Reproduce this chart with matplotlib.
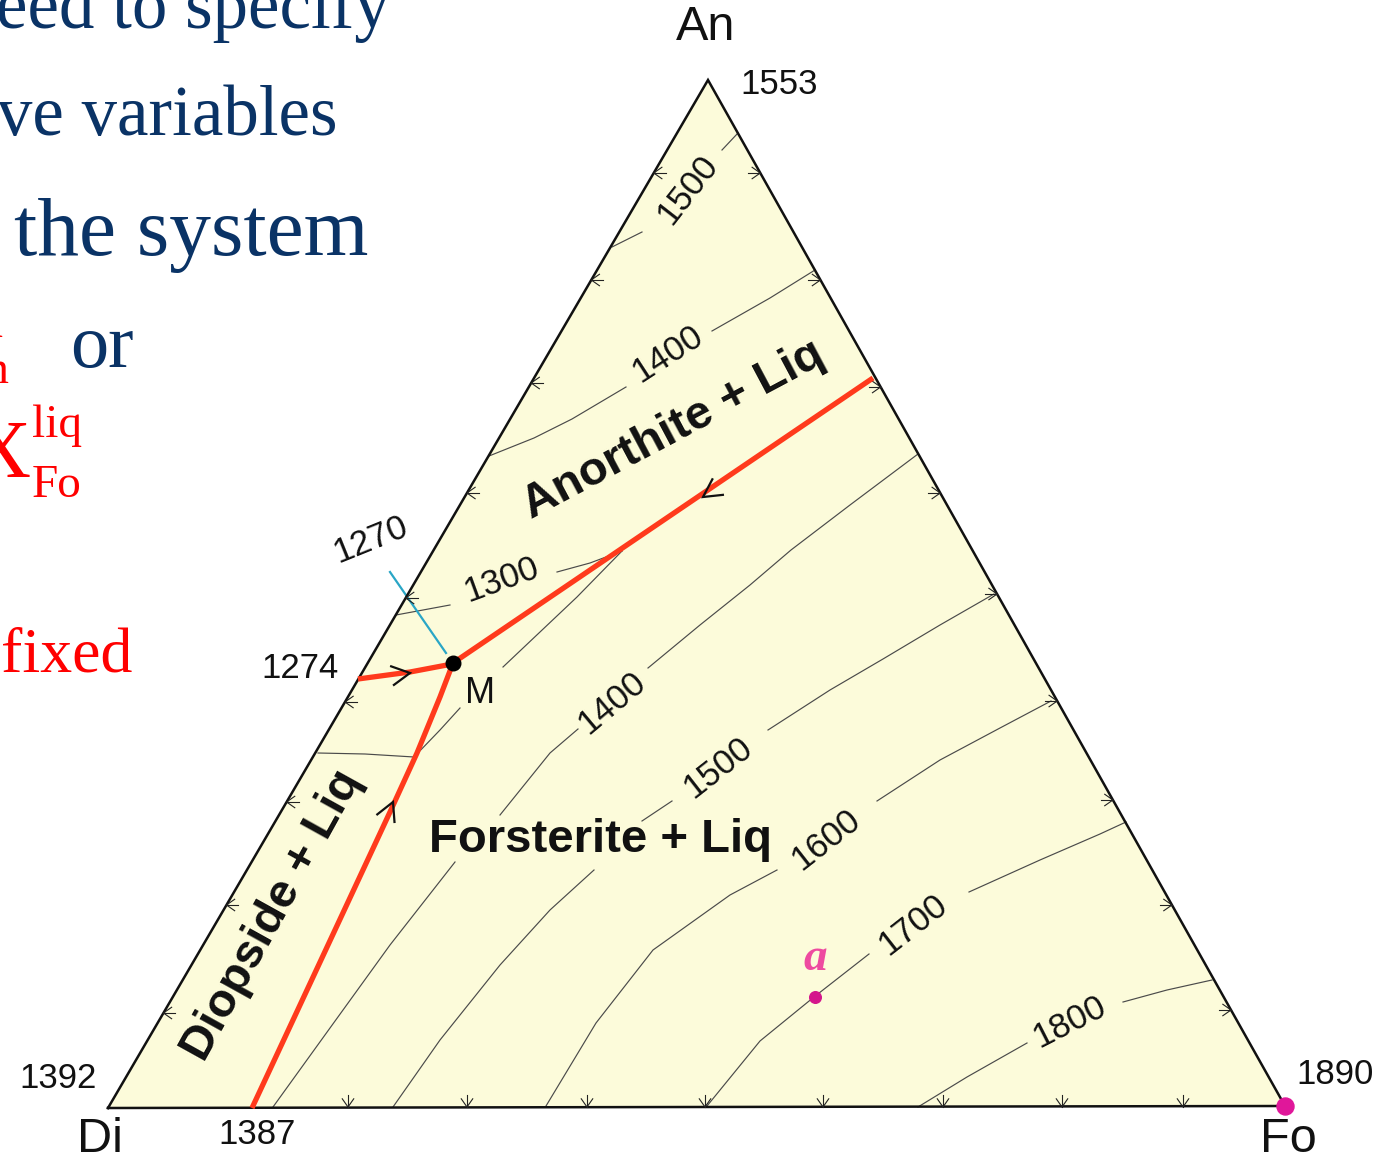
import matplotlib
matplotlib.use("Agg")
import matplotlib.pyplot as plt
import numpy as np
from matplotlib.patches import Polygon

# ---------------- data (figure pixel coordinates, y downward) ----------------
vertex_names = ["Di", "Fo", "An"]
vertex_xy = [(108, 1108), (1285, 1106), (708, 80)]
vertex_label_xy = [(100, 1140), (1288, 1140), (706, 28)]
vertex_temps = ["1392", "1387", "1890", "1553", "1274", "1270"]
vertex_temp_xy = [(58, 1078), (257, 1135), (1335, 1075), (779, 85), (300, 669), (371, 540)]
vertex_temp_rot = [0, 0, 0, 0, 0, 22]

# isotherms: each a list of segments (gaps where labels sit)
iso_an_1500 = [[(612, 247), (642, 232)], [(722, 150), (738, 133)]]
iso_an_1400 = [[(489, 456), (534, 438), (572, 419), (626, 387)],
               [(712, 331), (770, 298), (815, 270)]]
iso_an_1300 = [[(396, 615), (450, 605)], [(557, 572), (590, 563), (622, 551)]]
iso_di_1300 = [[(318, 753), (365, 754), (414, 757)]]
iso_fo_1300 = [[(414, 757), (440, 730), (460, 708)],
               [(503, 667), (540, 632), (577, 597), (622, 551)]]
iso_fo_1400 = [[(273, 1107), (330, 1028), (390, 945), (455, 862)],
               [(500, 815), (550, 753), (578, 729)],
               [(648, 668), (700, 625), (750, 585), (791, 550), (850, 505), (918, 454)]]
iso_fo_1500 = [[(393, 1107), (440, 1040), (500, 965), (550, 910), (594, 870)],
               [(642, 821), (672, 801)],
               [(768, 730), (830, 690), (883, 659), (940, 625), (994, 594)]]
iso_fo_1600 = [[(546, 1106), (596, 1023), (653, 950), (730, 895), (777, 870)],
               [(877, 801), (940, 760), (1000, 728), (1051, 701)]]
iso_fo_1700 = [[(707, 1106), (760, 1041), (814, 997), (869, 954)],
               [(969, 892), (1040, 860), (1100, 834), (1126, 822)]]
iso_fo_1800 = [[(918, 1107), (967, 1077), (1027, 1043)],
               [(1123, 1002), (1167, 990), (1212, 980)]]
isotherms = [iso_an_1500, iso_an_1400, iso_an_1300, iso_di_1300, iso_fo_1300,
             iso_fo_1400, iso_fo_1500, iso_fo_1600, iso_fo_1700, iso_fo_1800]

iso_labels = ["1500", "1400", "1300", "1400", "1500", "1600", "1700", "1800"]
iso_label_xy = [(688, 190), (668, 354), (502, 580), (612, 703), (718, 768),
                (826, 840), (913, 925), (1070, 1022)]
iso_label_rot = [52, 33, 20, 40, 38, 38, 38, 27]

# cotectic boundaries (red)
cot_an_fo = [(873, 378), (453, 663)]
cot_di_an = [(358, 679), (410, 672), (447, 665), (453, 663)]
cot_di_fo = [(453, 663), (440, 697), (417, 753), (390, 812), (252, 1108)]
cotectics = [cot_an_fo, cot_di_an, cot_di_fo]
# arrow tips and directions on cotectics
arrow_tips = [(703, 497), (410, 673), (393, 802)]
arrow_dirs = [(-420, 285), (1, -0.15), (0.44, -1)]

tie_line = [(390, 572), (446, 653)]          # cyan
eutectic_M = (453, 663)
point_a = (815, 997)

# edge ticks
left_tick_y = [173, 280, 383, 493, 598, 702, 802, 905, 1013]
right_tick_y = [173, 280, 387, 493, 594, 701, 800, 905, 1010]
bottom_tick_x = [348, 467, 587, 705, 823, 943, 1062, 1183]

field_names = ["Anorthite + Liq", "Forsterite + Liq", "Diopside + Liq"]
field_xy = [(673, 430), (601, 840), (272, 915)]
field_rot = [28, 0, 61]

# ---------------- drawing ----------------
W, H = 1382, 1159
fig = plt.figure(figsize=(W / 100, H / 100), dpi=100)
ax = fig.add_axes([0, 0, 1, 1])
ax.set_xlim(0, W)
ax.set_ylim(H, 0)
ax.axis("off")

SANS = ["Liberation Sans", "DejaVu Sans"]
SERIF = ["Liberation Serif", "DejaVu Serif"]
FILL = "#fcfbda"

tri = Polygon(vertex_xy, closed=True, facecolor=FILL, edgecolor="none", zorder=1)
ax.add_patch(tri)
vx = [p[0] for p in vertex_xy] + [vertex_xy[0][0]]
vy = [p[1] for p in vertex_xy] + [vertex_xy[0][1]]
ax.plot(vx, vy, color="#111111", lw=1.8, zorder=5, solid_joinstyle="miter")

# isotherms
for iso in isotherms:
    for seg in iso:
        xs, ys = zip(*seg)
        ax.plot(xs, ys, color="#4a4a4a", lw=0.85, zorder=2)

for t, (x, y), r in zip(iso_labels, iso_label_xy, iso_label_rot):
    ax.text(x, y, t, fontsize=25, family=SANS, color="#111111", rotation=r,
            rotation_mode="anchor", ha="center", va="center", zorder=6)


def edge_x(p0, p1, y):
    return p0[0] + (y - p0[1]) * (p1[0] - p0[0]) / (p1[1] - p0[1])


def arrowhead(tip, d, L=14, ang=32, stem=0, lw=1.0, color="#222222", z=7):
    d = np.array(d, float)
    d /= np.hypot(*d)
    a = np.radians(ang)
    tip = np.array(tip, float)
    pts = []
    for s in (a, -a):
        R = np.array([[np.cos(s), -np.sin(s)], [np.sin(s), np.cos(s)]])
        pts.append(tip - L * (R @ d))
    ax.plot([pts[0][0], tip[0], pts[1][0]], [pts[0][1], tip[1], pts[1][1]],
            color=color, lw=lw, zorder=z, solid_joinstyle="miter")
    if stem:
        e = tip - stem * d
        ax.plot([tip[0], e[0]], [tip[1], e[1]], color=color, lw=lw, zorder=z)


Di, Fo, An = vertex_xy
for y in left_tick_y:
    arrowhead((edge_x(An, Di, y), y), (-1, 0), L=10, ang=35, stem=12, lw=0.8)
for y in right_tick_y:
    arrowhead((edge_x(An, Fo, y), y), (1, 0), L=10, ang=35, stem=12, lw=0.8)
for x in bottom_tick_x:
    arrowhead((x, 1107), (0, 1), L=10, ang=35, stem=12, lw=0.8)

# cotectics
for c in cotectics:
    xs, ys = zip(*c)
    ax.plot(xs, ys, color="#ff3a1c", lw=3.8, zorder=8, solid_capstyle="butt")
for tip, d in zip(arrow_tips, arrow_dirs):
    arrowhead(tip, d, L=20, ang=28, lw=1.6, color="#111111", z=9)

# tie line
xs, ys = zip(*tie_line)
ax.plot(xs, ys, color="#2aa6c6", lw=1.6, zorder=4)

# points
ax.scatter([eutectic_M[0]], [eutectic_M[1]], s=110, color="black", zorder=10)
ax.scatter([point_a[0]], [point_a[1]], s=70, color="#d4168c", zorder=10)
ax.scatter([Fo[0]], [Fo[1]], s=150, color="#e0179a", zorder=10)
ax.text(point_a[0], point_a[1] - 27, "a", fontsize=34, family=SERIF, style="italic",
        weight="bold", color="#ee4aa0", ha="center", va="baseline", zorder=10)
ax.text(465, 703, "M", fontsize=26, family=SANS, color="#111111", ha="left",
        va="baseline", zorder=10)

# vertex labels and temperatures
for n, (x, y) in zip(vertex_names, vertex_label_xy):
    ax.text(x, y, n, fontsize=35, family=SANS, color="#111111", ha="center",
            va="center", zorder=10)
for t, (x, y), r in zip(vertex_temps, vertex_temp_xy, vertex_temp_rot):
    ax.text(x, y, t, fontsize=25, family=SANS, color="#111111", ha="center",
            va="center", rotation=r, rotation_mode="anchor", zorder=10)

# field labels
for t, (x, y), r in zip(field_names, field_xy, field_rot):
    ax.text(x, y, t, fontsize=34, family=SANS, weight="bold", color="#111111",
            ha="center", va="center", rotation=r, rotation_mode="anchor", zorder=11)

# slide text on the left (clipped at the image border)
NAVY = "#0a3366"
RED = "#ff0000"
ax.text(390, 28, "eed to specify", fontsize=51, family=SERIF, color=NAVY,
        ha="right", va="baseline")
ax.text(338, 135, "ve variables", fontsize=51, family=SERIF, color=NAVY,
        ha="right", va="baseline")
ax.text(14, 255, "the system", fontsize=60, family=SERIF, color=NAVY,
        ha="left", va="baseline")
ax.text(70, 367, "or", fontsize=55, family=SERIF, color=NAVY, ha="left",
        va="baseline")
ax.text(3, 327, "liq", fontsize=34, family=SERIF, color=RED, ha="right",
        va="baseline")
ax.text(9, 383, "An", fontsize=34, family=SERIF, color=RED, ha="right",
        va="baseline")
ax.text(30, 477, "X", fontsize=59, family=SERIF, color=RED, ha="right",
        va="baseline")
ax.text(32, 437, "liq", fontsize=34, family=SERIF, color=RED, ha="left",
        va="baseline")
ax.text(32, 497, "Fo", fontsize=34, family=SERIF, color=RED, ha="left",
        va="baseline")
ax.text(1, 672, "fixed", fontsize=46, family=SERIF, color=RED, ha="left",
        va="baseline")

fig.savefig("out.png", dpi=100, facecolor="white")
